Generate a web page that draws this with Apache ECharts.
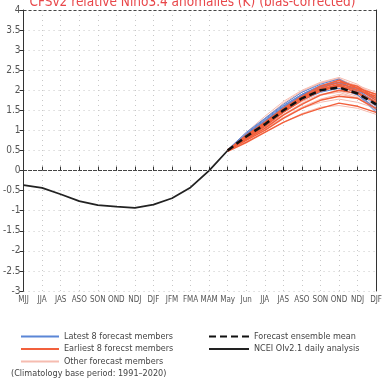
<!DOCTYPE html>
<html>
<head>
<meta charset="utf-8">
<script src="https://cdn.jsdelivr.net/npm/echarts@6/dist/echarts.min.js"></script>
<style>
html, body { margin: 0; padding: 0; background: #fff; }
#chart { width: 385px; height: 382px; }
</style>
</head>
<body>
<div id="chart"></div>
<script>
const months = ['MJJ', 'JJA', 'JAS', 'ASO', 'SON', 'OND', 'NDJ', 'DJF', 'JFM', 'FMA', 'MAM', 'May',
	'Jun', 'JJA', 'JAS', 'ASO', 'SON', 'OND', 'NDJ', 'DJF'];

// observed, MJJ .. May
const analysis = [-0.36, -0.43, -0.59, -0.76, -0.86, -0.9, -0.93, -0.85, -0.69, -0.42, 0.0, 0.5];

// forecasts, May .. DJF
const forecastStart = 11;
const ensembleMean = [0.5, 0.85, 1.15, 1.5, 1.8, 2.0, 2.07, 1.92, 1.65];

const latestMembers = [
	[0.5, 0.9, 1.25, 1.6, 1.9, 2.1, 2.2, 2.0, 1.7],
	[0.5, 0.88, 1.2, 1.58, 1.87, 2.08, 2.25, 1.95, 1.5],
	[0.52, 0.95, 1.3, 1.65, 1.95, 2.15, 2.28, 2.05, 1.75],
	[0.5, 0.85, 1.15, 1.5, 1.82, 2.0, 2.15, 1.9, 1.45],
	[0.48, 0.86, 1.22, 1.55, 1.85, 2.05, 2.1, 2.0, 1.8],
	[0.5, 0.92, 1.28, 1.62, 1.9, 2.12, 2.2, 1.98, 1.6],
	[0.5, 0.82, 1.1, 1.45, 1.75, 1.95, 2.05, 1.88, 1.55],
	[0.51, 0.9, 1.24, 1.57, 1.88, 2.08, 2.18, 2.02, 1.65]
];

const earliestMembers = [
	[0.5, 0.8, 1.1, 1.45, 1.75, 1.98, 2.1, 1.95, 1.7],
	[0.5, 0.75, 1.0, 1.3, 1.55, 1.75, 1.85, 1.8, 1.55],
	[0.48, 0.7, 0.95, 1.2, 1.4, 1.55, 1.68, 1.6, 1.45],
	[0.5, 0.85, 1.15, 1.5, 1.82, 2.05, 2.2, 2.1, 1.8],
	[0.5, 0.88, 1.2, 1.55, 1.85, 2.1, 2.25, 2.05, 1.75],
	[0.5, 0.82, 1.12, 1.48, 1.78, 2.0, 2.12, 2.0, 1.85],
	[0.52, 0.78, 1.05, 1.38, 1.65, 1.88, 2.0, 1.92, 1.7],
	[0.5, 0.86, 1.18, 1.52, 1.8, 2.02, 2.15, 2.05, 1.9]
];

const otherMembers = [
	[0.5, 0.95, 1.35, 1.72, 2.0, 2.2, 2.32, 2.15, 1.85],
	[0.5, 0.72, 0.95, 1.2, 1.42, 1.58, 1.62, 1.55, 1.4],
	[0.5, 0.78, 1.05, 1.32, 1.55, 1.7, 1.78, 1.7, 1.55],
	[0.5, 0.9, 1.28, 1.65, 1.95, 2.18, 2.28, 2.1, 1.9],
	[0.5, 0.84, 1.14, 1.46, 1.72, 1.9, 1.98, 1.85, 1.6],
	[0.5, 0.88, 1.22, 1.58, 1.9, 2.12, 2.25, 2.12, 1.95],
	[0.48, 0.76, 1.02, 1.32, 1.58, 1.78, 1.9, 1.82, 1.62],
	[0.5, 0.92, 1.3, 1.68, 1.98, 2.18, 2.3, 2.05, 1.7],
	[0.5, 0.8, 1.08, 1.4, 1.68, 1.88, 1.95, 1.8, 1.5],
	[0.52, 0.86, 1.18, 1.52, 1.82, 2.02, 2.12, 1.98, 1.72]
];

const names = {
	latest: 'Latest 8 forecast members',
	earliest: 'Earliest 8 forecst members',
	other: 'Other forecast members',
	mean: 'Forecast ensemble mean',
	obs: 'NCEI OIv2.1 daily analysis'
};

const font = '"DejaVu Sans Condensed", "Liberation Sans", sans-serif';
const gridDots = { color: '#c8c8c8', width: 1, type: [1, 4] };

function pad(arr) {
	return new Array(forecastStart).fill(null).concat(arr);
}

function memberSeries(list, name, color, width) {
	return list.map(d => ({
		name: name,
		type: 'line',
		data: pad(d),
		symbol: 'none',
		silent: true,
		lineStyle: { color: color, width: width }
	}));
}

const series = [].concat(
	memberSeries(otherMembers, names.other, '#f6bcb0', 1),
	memberSeries(latestMembers, names.latest, '#5b86d6', 1),
	memberSeries(earliestMembers, names.earliest, '#f2603c', 1.5),
	[{
		name: names.mean,
		type: 'line',
		data: pad(ensembleMean),
		symbol: 'none',
		lineStyle: { color: '#111', width: 2.5, type: [7, 4] }
	}, {
		name: names.obs,
		type: 'line',
		data: analysis,
		symbol: 'none',
		lineStyle: { color: '#222', width: 1.8 },
		markLine: {
			silent: true,
			symbol: 'none',
			label: { show: false },
			lineStyle: { color: '#444', width: 1, type: [3, 2] },
			data: [{ yAxis: 0 }, { yAxis: 4 }]
		}
	}]
);

const legendBase = {
	orient: 'vertical',
	top: 332,
	padding: 0,
	itemHeight: 9,
	itemGap: 3.5,
	itemStyle: { opacity: 0 },
	textStyle: { color: '#444', fontSize: 9, fontFamily: font }
};

const chart = echarts.init(document.getElementById('chart'));
chart.setOption({
	animation: false,
	title: [{
		text: 'CFSv2 relative Niño3.4 anomalies (K) (bias-corrected)',
		left: 'center',
		top: -10,
		textStyle: { color: '#e8474a', fontSize: 13.5, fontWeight: 'normal', fontFamily: font }
	}, {
		text: '(Climatology base period: 1991–2020)',
		left: 6,
		top: 364,
		textStyle: { color: '#444', fontSize: 9, fontWeight: 'normal', fontFamily: font }
	}],
	legend: [Object.assign({}, legendBase, {
		left: 20,
		itemWidth: 38,
		data: [names.latest, names.earliest, names.other]
	}), Object.assign({}, legendBase, {
		left: 208,
		itemWidth: 40,
		data: [names.mean, names.obs]
	})],
	grid: { left: 19, right: 6, top: 10, bottom: 91 },
	xAxis: {
		type: 'category',
		boundaryGap: false,
		data: months,
		axisLine: { lineStyle: { color: '#333', width: 1, type: [3, 2] } },
		axisTick: { show: true, inside: true, length: 4, lineStyle: { color: '#333' } },
		axisLabel: { color: '#555', fontSize: 8, fontFamily: font, margin: 5, interval: 0 },
		splitLine: { show: true, lineStyle: gridDots }
	},
	yAxis: [{
		type: 'value',
		min: -3,
		max: 4,
		interval: 0.5,
		axisLine: { show: true, lineStyle: { color: '#333', width: 1 } },
		axisTick: { show: true, length: 4, lineStyle: { color: '#333' } },
		axisLabel: { color: '#555', fontSize: 10, fontFamily: font, margin: 3 },
		splitLine: { show: true, lineStyle: gridDots }
	}, {
		type: 'value',
		position: 'right',
		min: -3,
		max: 4,
		interval: 0.5,
		axisLine: { show: true, lineStyle: { color: '#333', width: 1 } },
		axisTick: { show: false },
		axisLabel: { show: false },
		splitLine: { show: false }
	}],
	series: series
});
</script>
</body>
</html>
